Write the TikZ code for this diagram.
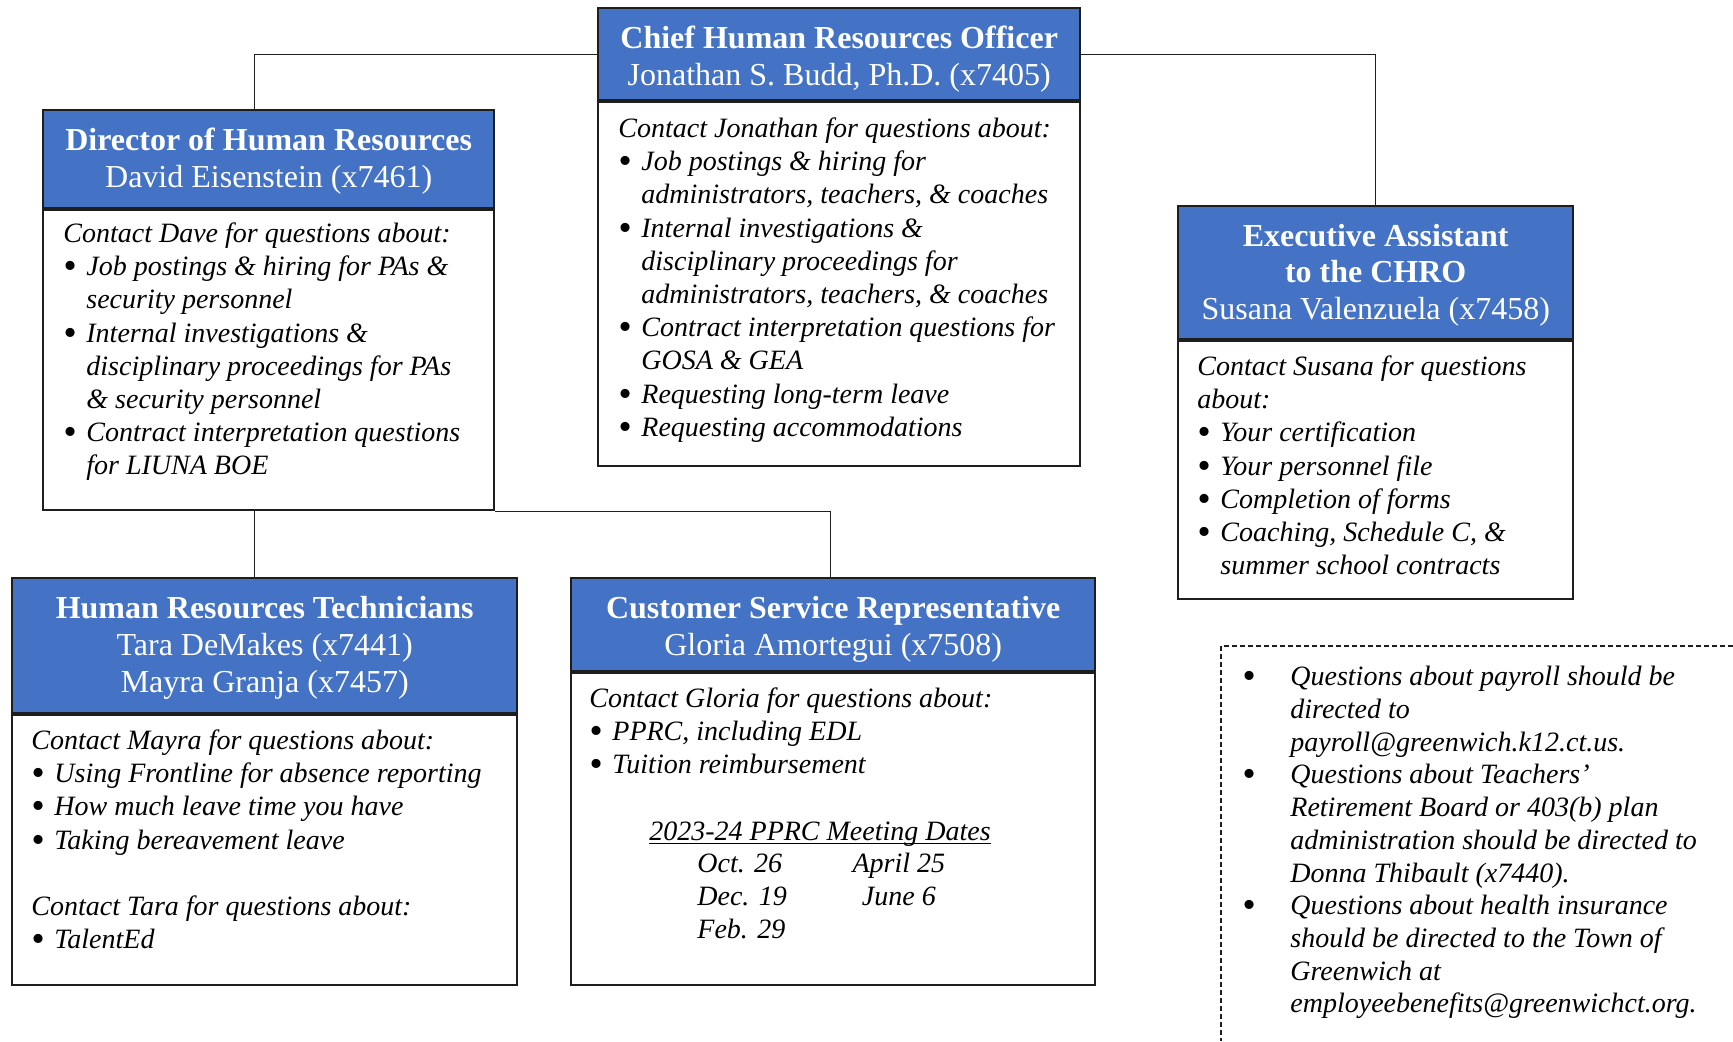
\documentclass[tikz,border=0pt]{standalone}
\usepackage{fontspec}
\setmainfont{Liberation Serif}
\definecolor{hrblue}{HTML}{4472C4}
\definecolor{boxline}{HTML}{1E1E1E}
\newcommand{\bigdot}{\smash{\raisebox{-1.5pt}{\fontsize{19}{19}\selectfont\textbullet}}}
\newcommand{\bitem}{\makebox[11.5pt][l]{\bigdot}}
\newcommand{\bcont}{\hspace*{11.5pt}}
\newcommand{\nbul}{\makebox[24pt][l]{\bigdot}}
\newcommand{\ncont}{\hspace*{24pt}}
\newcommand{\ulined}[1]{$\underline{\smash{\hbox{#1}}}$}
\begin{document}
\begin{tikzpicture}[x=0.5pt,y=-0.5pt,
				head/.style={draw=boxline,line width=1.2pt,fill=hrblue,anchor=north west,inner sep=0pt},
				headtext/.style={text=white,inner sep=0pt,align=center,font=\fontsize{16}{18.4}\selectfont},
				body/.style={draw=boxline,line width=1pt,anchor=north west,inner sep=0pt},
				bodytext/.style={anchor=north west,inner sep=0pt,align=left,
					font=\fontsize{14}{16.6}\selectfont\itshape},
				link/.style={draw=boxline,line width=0.6pt},
				notefrm/.style={draw=boxline,line width=0.6pt,dash pattern=on 2.5pt off 1.5pt}]
\useasboundingbox (0,0) rectangle (1733,1041);
\node[head,minimum width=241pt,minimum height=46pt] (chroHead) at (597,7) {};
\node[headtext] (chroTitle) at ([yshift=-2.6pt]chroHead.center)
	{\textbf{Chief Human Resources Officer}\\Jonathan S. Budd, Ph.D. (x7405)};
\node[body,minimum width=241pt,minimum height=182pt] (chroBody) at (chroHead.south west) {};
\node[bodytext] (chroText) at ([shift={(21,16)}]chroBody.north west)
	{Contact Jonathan for questions about:\\
	\bitem Job postings \& hiring for\\
	\bcont administrators, teachers, \& coaches\\
	\bitem Internal investigations \&\\
	\bcont disciplinary proceedings for\\
	\bcont administrators, teachers, \& coaches\\
	\bitem Contract interpretation questions for\\
	\bcont GOSA \& GEA\\
	\bitem Requesting long-term leave\\
	\bitem Requesting accommodations};

\node[head,minimum width=225.5pt,minimum height=49pt] (dirHead) at (42,109) {};
\node[headtext] (dirTitle) at ([yshift=-1.1pt]dirHead.center)
	{\textbf{Director of Human Resources}\\David Eisenstein (x7461)};
\node[body,minimum width=225.5pt,minimum height=150pt] (dirBody) at (dirHead.south west) {};
\node[bodytext] (dirText) at ([shift={(21,13)}]dirBody.north west)
	{Contact Dave for questions about:\\
	\bitem Job postings \& hiring for PAs \&\\
	\bcont security personnel\\
	\bitem Internal investigations \&\\
	\bcont disciplinary proceedings for PAs\\
	\bcont \& security personnel\\
	\bitem Contract interpretation questions\\
	\bcont for LIUNA BOE};

\node[head,minimum width=197.5pt,minimum height=66.5pt] (eaHead) at (1177,205) {};
\node[headtext] (eaTitle) at ([yshift=-1.2pt]eaHead.center)
	{\textbf{Executive Assistant}\\\textbf{to the CHRO}\\Susana Valenzuela (x7458)};
\node[body,minimum width=197.5pt,minimum height=129pt] (eaBody) at (eaHead.south west) {};
\node[bodytext] (eaText) at ([shift={(20,15)}]eaBody.north west)
	{Contact Susana for questions\\
	about:\\
	\bitem Your certification\\
	\bitem Your personnel file\\
	\bitem Completion of forms\\
	\bitem Coaching, Schedule C, \&\\
	\bcont summer school contracts};

\node[head,minimum width=252.5pt,minimum height=67.5pt] (hrtHead) at (11,577) {};
\node[headtext] (hrtTitle) at ([yshift=-1.1pt]hrtHead.center)
	{\textbf{Human Resources Technicians}\\Tara DeMakes (x7441)\\Mayra Granja (x7457)};
\node[body,minimum width=252.5pt,minimum height=135pt] (hrtBody) at (hrtHead.south west) {};
\node[bodytext] (hrtText) at ([shift={(20,15)}]hrtBody.north west)
	{Contact Mayra for questions about:\\
	\bitem Using Frontline for absence reporting\\
	\bitem How much leave time you have\\
	\bitem Taking bereavement leave\\[16.6pt]
	Contact Tara for questions about:\\
	\bitem TalentEd};

\node[head,minimum width=262pt,minimum height=46.5pt] (csrHead) at (570,577) {};
\node[headtext] (csrTitle) at ([yshift=-2.5pt]csrHead.center)
	{\textbf{Customer Service Representative}\\Gloria Amortegui (x7508)};
\node[body,minimum width=262pt,minimum height=156pt] (csrBody) at (csrHead.south west) {};
\node[bodytext] (csrText) at ([shift={(19,15)}]csrBody.north west)
	{Contact Gloria for questions about:\\
	\bitem PPRC, including EDL\\
	\bitem Tuition reimbursement};
\node[bodytext,anchor=north] (pprcTitle) at ([shift={(250,168)}]csrBody.north west)
	{\ulined{2023-24 PPRC Meeting Dates}};
\node[bodytext] (pprcDates) at ([shift={(127,180)}]csrBody.north west)
	{\makebox[77.5pt][l]{Oct. 26}\makebox[46.5pt][c]{April 25}\\
	\makebox[77.5pt][l]{Dec. 19}\makebox[46.5pt][c]{June 6}\\
	\makebox[77.5pt][l]{Feb. 29}};

\coordinate (noteCorner) at (1221,646);
\draw[notefrm] (noteCorner -| 1733,0) -- (noteCorner) -- (noteCorner |- 0,1041);
\node[bodytext,font=\fontsize{14}{16.35}\selectfont\itshape] (noteText) at ([shift={(21,20)}]noteCorner)
	{\nbul Questions about payroll should be\\
	\ncont directed to\\
	\ncont payroll@greenwich.k12.ct.us.\\
	\nbul Questions about Teachers’\\
	\ncont Retirement Board or 403(b) plan\\
	\ncont administration should be directed to\\
	\ncont Donna Thibault (x7440).\\
	\nbul Questions about health insurance\\
	\ncont should be directed to the Town of\\
	\ncont Greenwich at\\
	\ncont employeebenefits@greenwichct.org.};

\draw[link] (chroHead.west) -| ([xshift=-7pt]dirHead.north);
\draw[link] (chroHead.east) -| (eaHead.north);
\draw[link] ([xshift=-7pt]dirBody.south) -- ([xshift=-7pt]dirBody.south |- hrtHead.north);
\draw[link] (dirBody.south east) -| ([xshift=-1.5pt]csrHead.north);
\end{tikzpicture}
\end{document}
